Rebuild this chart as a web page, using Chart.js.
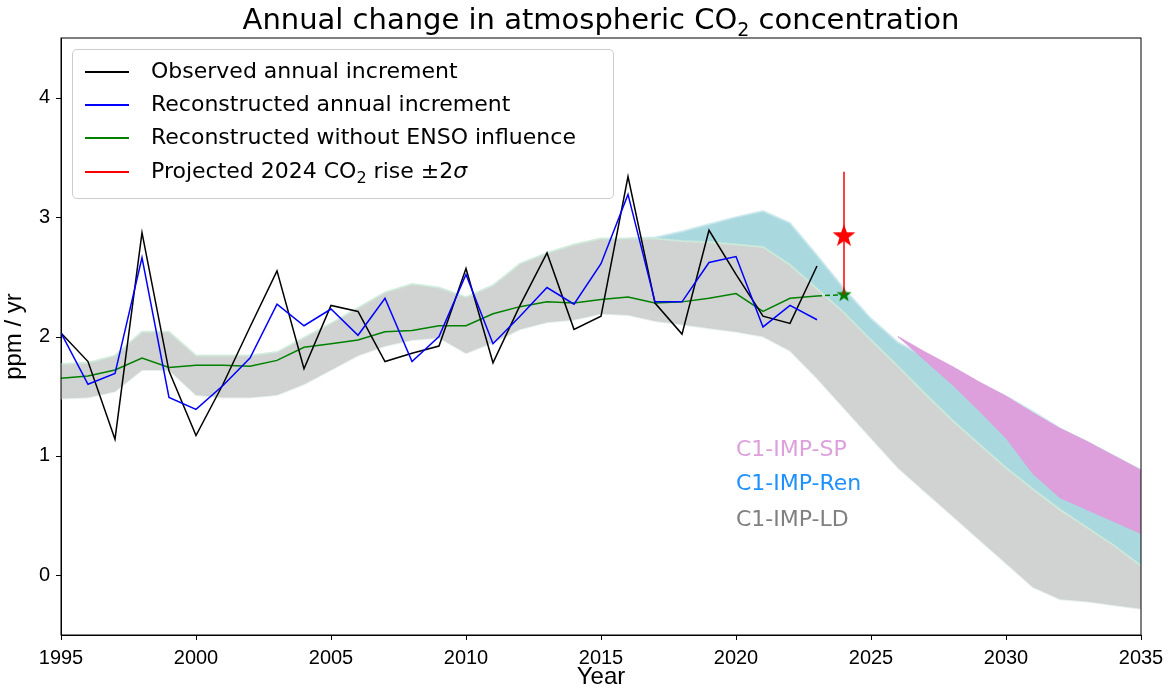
<!DOCTYPE html>
<html><head><meta charset="utf-8">
<script src="https://cdn.jsdelivr.net/npm/chart.js@4"></script>
<style>
body{margin:0;background:#fff;font-family:"DejaVu Sans",sans-serif;}
#wrap{position:relative;width:1172px;height:692px;}
#title{position:absolute;top:2px;left:61px;width:1080px;text-align:center;font-size:29px;color:#000;}
#legend{position:absolute;left:72px;top:49px;width:540px;height:148px;border:1px solid #ccc;border-radius:5px;background:rgba(255,255,255,.85);font-size:22px;}
#legend div{position:absolute;left:0;height:34px;line-height:34px;}
#legend span.l{display:inline-block;width:44px;height:2px;vertical-align:middle;margin:0 22px 0 12px;}
.lab{position:absolute;font-size:22px;}
</style></head><body>
<div id="wrap">
<canvas id="c" width="1172" height="692"></canvas>
<div id="title">Annual change in atmospheric CO<sub style="font-size:19px">2</sub> concentration</div>
<div id="legend">
 <div style="top:4px"><span class="l" style="background:#000"></span>Observed annual increment</div>
 <div style="top:37px"><span class="l" style="background:#00f"></span>Reconstructed annual increment</div>
 <div style="top:70px"><span class="l" style="background:#008000"></span>Reconstructed without ENSO influence</div>
 <div style="top:104px"><span class="l" style="background:#f00"></span>Projected 2024 CO<sub style="font-size:16px">2</sub> rise ±2<i>σ</i></div>
</div>
<div class="lab" style="left:736px;top:436px;color:#dda0dd">C1-IMP-SP</div>
<div class="lab" style="left:736px;top:470px;color:#1e90ff">C1-IMP-Ren</div>
<div class="lab" style="left:736px;top:506px;color:#808080">C1-IMP-LD</div>
</div>
<script>
const years = [1995,1996,1997,1998,1999,2000,2001,2002,2003,2004,2005,2006,2007,2008,2009,2010,2011,2012,2013,2014,2015,2016,2017,2018,2019,2020,2021,2022,2023];
const observed = [2.03,1.79,1.14,2.87,1.71,1.17,1.60,2.08,2.55,1.73,2.26,2.21,1.79,1.86,1.92,2.57,1.78,2.26,2.70,2.06,2.17,3.34,2.28,2.02,2.89,2.52,2.17,2.11,2.59];
const reconstructed = [2.03,1.60,1.69,2.66,1.49,1.39,1.59,1.82,2.27,2.09,2.23,2.01,2.32,1.79,2.00,2.52,1.94,2.17,2.41,2.27,2.61,3.19,2.29,2.29,2.62,2.67,2.08,2.26,2.14];
const noEnso = [1.65,1.67,1.72,1.82,1.74,1.76,1.76,1.75,1.80,1.91,1.94,1.97,2.04,2.05,2.09,2.09,2.19,2.25,2.29,2.28,2.31,2.33,2.28,2.29,2.32,2.36,2.21,2.32,2.34];

// bands
const bandYears = [1995,1996,1997,1998,1999,2000,2001,2002,2003,2004,2005,2006,2007,2008,2009,2010,2011,2012,2013,2014,2015,2016,2017,2018,2019,2020,2021,2022,2023,2024,2025,2026,2027,2028,2029,2030,2031,2032,2033,2034,2035];
const ldUpper = [1.77,1.78,1.84,2.04,2.04,1.84,1.84,1.84,1.87,1.99,2.11,2.24,2.37,2.44,2.41,2.33,2.43,2.61,2.70,2.77,2.82,2.82,2.82,2.80,2.79,2.77,2.75,2.60,2.40,2.20,1.97,1.75,1.52,1.30,1.10,0.90,0.72,0.55,0.40,0.25,0.08];
const ldLower = [1.48,1.49,1.54,1.72,1.72,1.51,1.49,1.49,1.51,1.60,1.72,1.84,1.92,1.97,1.99,1.86,1.95,2.06,2.12,2.14,2.19,2.18,2.13,2.10,2.07,2.04,2.00,1.88,1.65,1.40,1.15,0.90,0.70,0.50,0.30,0.10,-0.10,-0.20,-0.22,-0.25,-0.28];
const renYears = [2016,2017,2018,2019,2020,2021,2022,2023,2024,2025,2026,2027,2028,2029,2030,2031,2032,2033,2034,2035];
const renUpper = [2.82,2.83,2.88,2.94,3.00,3.05,2.95,2.68,2.40,2.15,1.95,1.83,1.72,1.61,1.50,1.37,1.23,1.12,1.00,0.88];
const spYears = [2026,2027,2028,2029,2030,2031,2032,2033,2034,2035];
const spUpper = [2.00,1.87,1.75,1.62,1.50,1.36,1.23,1.12,1.00,0.88];
const spLower = [2.00,1.80,1.60,1.38,1.15,0.85,0.65,0.55,0.45,0.35];
const yTicks = [0,1,2,3,4];

const proj2024 = 2.84, projLow = 2.35, projHigh = 3.38, enso2024 = 2.35;

const pts = (xs, ys) => xs.map((x, i) => ({x, y: ys[i]}));
const renLowerPts = renYears.map(y => ({x: y, y: ldUpper[bandYears.indexOf(y)]}));

function starImg(r, color) {
  const c = document.createElement('canvas'); c.width = c.height = 2 * r + 2;
  const g = c.getContext('2d'); g.fillStyle = color; g.beginPath();
  for (let i = 0; i < 10; i++) {
    const rr = i % 2 ? r * 0.4 : r, a = -Math.PI / 2 + i * Math.PI / 5;
    g.lineTo(r + 1 + rr * Math.cos(a), r + 1 + rr * Math.sin(a));
  }
  g.closePath(); g.fill(); return c;
}

new Chart(document.getElementById('c'), {
  type: 'line',
  data: { datasets: [
    { data: pts(renYears, renUpper), borderColor: 'rgba(200,230,235,.8)', borderWidth: 2, pointRadius: 0, backgroundColor: '#a9d8df', fill: '+1', order: 10 },
    { data: renLowerPts, borderWidth: 0, pointRadius: 0, fill: false, order: 10 },
    { data: pts(bandYears, ldUpper), borderColor: 'rgba(205,235,218,.8)', borderWidth: 2, pointRadius: 0, backgroundColor: 'rgba(204,207,205,0.92)', fill: '+1', order: 9 },
    { data: pts(bandYears, ldLower), borderColor: 'rgba(225,238,230,.8)', borderWidth: 2, pointRadius: 0, fill: false, order: 9 },
    { data: pts(spYears, spUpper), borderColor: '#dda0dd', borderWidth: 1, pointRadius: 0, backgroundColor: '#dda0dd', fill: '+1', order: 8 },
    { data: pts(spYears, spLower), borderColor: '#dda0dd', borderWidth: 1, pointRadius: 0, fill: false, order: 8 },
    { data: pts(years, noEnso), borderColor: '#008000', borderWidth: 1.5, pointRadius: 0, tension: 0, order: 3 },
    { data: [{x: 2023, y: noEnso[noEnso.length-1]}, {x: 2024, y: enso2024}], borderColor: '#008000', borderWidth: 1.5, borderDash: [5,3], pointRadius: 0, order: 3 },
    { data: pts(years, observed), borderColor: '#000', borderWidth: 1.5, pointRadius: 0, order: 2 },
    { data: pts(years, reconstructed), borderColor: '#0000ff', borderWidth: 1.5, pointRadius: 0, order: 1 },
    { data: [{x: 2024, y: projLow}, {x: 2024, y: projHigh}], borderColor: '#f00', borderWidth: 1.5, pointRadius: 0, order: 0 },
    { data: [{x: 2024, y: proj2024}], showLine: false, pointStyle: starImg(12, '#f00'), pointRadius: 12, order: 0 },
    { data: [{x: 2024, y: enso2024}], showLine: false, pointStyle: starImg(8, '#008000'), pointRadius: 8, order: 0 },
  ]},
  options: {
    responsive: false, animation: false,
    layout: { padding: { top: 38, right: 31, left: 0, bottom: 0 } },
    plugins: { legend: { display: false }, tooltip: { enabled: false } },
    scales: {
      x: { type: 'linear', min: 1995, max: 2035, grid: { display: false, drawTicks: true }, border: { color: '#000' },
           ticks: { stepSize: 5, color: '#000', font: { size: 20 }, callback: v => String(v) },
           title: { display: true, text: 'Year', color: '#000', font: { size: 24 }, padding: 0 },
           afterFit: s => { s.height = 57; } },
      y: { min: -0.5, max: 4.5, grid: { display: false }, border: { color: '#000' },
           afterBuildTicks: s => { s.ticks = yTicks.map(v => ({value: v})); },
           ticks: { color: '#000', font: { size: 20 }, callback: v => String(v) },
           title: { display: true, text: 'ppm / yr', color: '#000', font: { size: 24 }, padding: 0 },
           afterFit: s => { s.width = 61; } }
    }
  },
  plugins: [{ id: 'frame', afterDraw(ch) { const a = ch.chartArea, c = ch.ctx; c.save(); c.strokeStyle = '#000'; c.lineWidth = 1; c.strokeRect(a.left, a.top, a.right - a.left, a.bottom - a.top);
    c.beginPath(); ch.scales.y.ticks.forEach(t => { const y = Math.round(ch.scales.y.getPixelForValue(t.value)) + .5; c.moveTo(a.left - 5, y); c.lineTo(a.left, y); });
    ch.scales.x.ticks.forEach(t => { const x = Math.round(ch.scales.x.getPixelForValue(t.value)) + .5; c.moveTo(x, a.bottom); c.lineTo(x, a.bottom + 5); }); c.stroke(); c.restore(); } }]
});
</script>
</body></html>
